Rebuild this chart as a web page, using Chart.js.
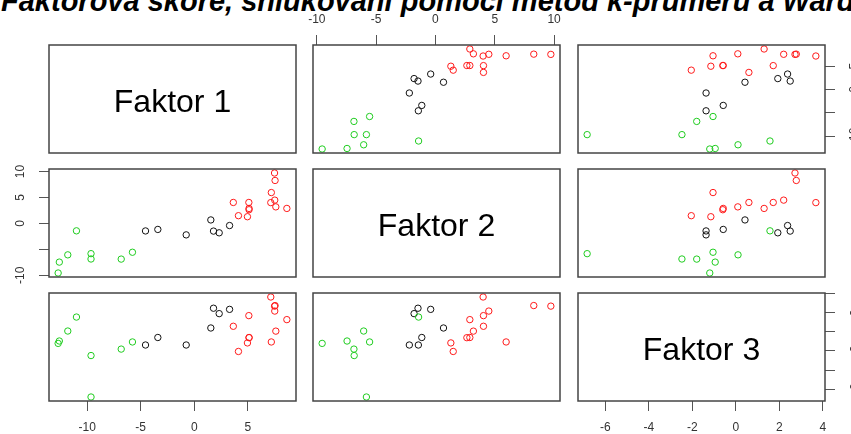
<!DOCTYPE html>
<html>
<head>
<meta charset="utf-8">
<script src="https://cdn.jsdelivr.net/npm/chart.js@4.4.1/dist/chart.umd.min.js"></script>
<style>
  body { margin: 0; width: 851px; height: 434px; overflow: hidden; background: #fff; position: relative; }
  #title { position: absolute; left: 1px; top: -15px; white-space: nowrap; line-height: 1;
           font: italic bold 29px "Liberation Sans", Arial, sans-serif; color: #000; }
  canvas { position: absolute; }
</style>
</head>
<body>
<div id="title">Faktorová skóre, shlukování pomocí metod k-průměrů a Ward</div>
<script>
// skóre tří faktorů pro 28 pozorování (zelené, černé, červené shluky)
const faktor1 = [-12.71, -12.6, -11.81, -11.0, -9.64, -9.64, -6.82, -5.77,
                 -4.55, -3.4, -0.75, 1.55, 1.8, 2.33, 3.3,
                 3.65, 4.13, 4.97, 5.1, 5.12, 5.12, 7.2, 7.15, 7.5, 7.55, 7.52, 7.62, 8.65];
const faktor2 = [-9.55, -7.45, -6.05, -1.42, -6.85, -5.82, -6.87, -5.55,
                 -1.44, -1.15, -2.2, 0.68, -1.47, -1.8, -0.4,
                 4.05, 1.5, 1.3, 4.05, 2.9, 2.65, 5.96, 4.02, 9.73, 8.29, 4.5, 3.2, 2.9];
const faktor3 = [-1.2, -0.95, 0.1, 1.57, -2.48, -6.84, -1.8, -1.05,
                 -1.37, -0.58, -1.37, 0.42, 2.5, 1.93, 2.38,
                 0.6, -2.05, -1.15, 1.72, -0.58, -0.6, -1.05, 3.68, 2.72, 2.78, 2.2, 0.09, 1.3];
// 1 = černý, 2 = červený, 3 = zelený
const shluk = [3, 3, 3, 3, 3, 3, 3, 3,
               1, 1, 1, 1, 1, 1, 1,
               2, 2, 2, 2, 2, 2, 2, 2, 2, 2, 2, 2, 2];

const nazvy = ['Faktor 1', 'Faktor 2', 'Faktor 3'];
const tickValues = [[-10, -5, 0, 5], [-10, -5, 0, 5, 10], [-6, -4, -2, 0, 2, 4]];
// popisky os y, které R vynechá kvůli překryvu
const skipY = [[-5], [-5], [-4, 0, 4]];

const faktory = [faktor1, faktor2, faktor3];
const barvy = { 1: '#111111', 2: '#ff1a1a', 3: '#1fcc1f' };

// rozložení panelů
const cols = [49, 313, 578], rows = [45, 169, 293];
const W = 247, H = 108;
const AX = { top: 45, bottom: 33, left: 49, right: 26 };
const M = 14; // okraj plátna na stranách bez osy, aby se popisky neořízly

function rozsah(v) {
  const lo = Math.min(...v), hi = Math.max(...v), d = (hi - lo) * 0.04;
  return [lo - d, hi + d];
}

function osa(i, pos, shown, skip) {
  const [min, max] = rozsah(faktory[i]);
  const vertical = pos === 'left' || pos === 'right';
  let pad = 8;
  if (pos === 'bottom') pad = 9;
  if (pos === 'left') pad = 10;
  if (pos === 'right') pad = i === 0 ? 11 : 15;
  return {
    type: 'linear', position: pos, display: shown, min: min, max: max,
    afterBuildTicks: s => { s.ticks = tickValues[i].map(v => ({ value: v })); },
    afterFit: s => {
      // pevná velikost osy, bez automatického odsazení
      s.paddingLeft = s.paddingRight = s.paddingTop = s.paddingBottom = 0;
      if (!shown) return;
      if (vertical) s.width = AX[pos]; else s.height = AX[pos];
    },
    grid: { display: shown, drawOnChartArea: false, drawTicks: true, tickLength: 10, color: '#555', lineWidth: 1 },
    border: { display: false },
    ticks: {
      autoSkip: false, color: '#333', padding: pad,
      font: { family: '"Liberation Sans", Arial', size: 12 },
      minRotation: vertical ? 90 : 0, maxRotation: vertical ? 90 : 0,
      crossAlign: vertical ? 'center' : 'near',
      callback: v => (skip.includes(v) ? '' : String(v))
    }
  };
}

const panelBox = {
  id: 'panelBox',
  afterDraw(chart, args, opts) {
    const { ctx, chartArea: a } = chart;
    ctx.save();
    ctx.strokeStyle = '#444';
    ctx.lineWidth = 1.5;
    ctx.strokeRect(a.left, a.top, a.right - a.left, a.bottom - a.top);
    if (opts.label) {
      ctx.fillStyle = '#000';
      ctx.font = '32px "Liberation Sans", Arial';
      ctx.textAlign = 'center';
      ctx.textBaseline = 'middle';
      ctx.fillText(opts.label, (a.left + a.right) / 2, (a.top + a.bottom) / 2 + 4);
    }
    ctx.restore();
  }
};

for (let r = 0; r < 3; r++) {
  for (let c = 0; c < 3; c++) {
    const hasTop = r === 0 && c === 1;
    const hasBottom = r === 2 && c !== 1;
    const hasLeft = c === 0 && r === 1;
    const hasRight = c === 2 && r !== 1;

    const ext = {
      top: hasTop ? AX.top : M, bottom: hasBottom ? AX.bottom : M,
      left: hasLeft ? AX.left : M, right: hasRight ? AX.right : M
    };
    const padding = {
      top: hasTop ? 0 : M, bottom: hasBottom ? 0 : M,
      left: hasLeft ? 0 : M, right: hasRight ? 0 : M
    };

    const cv = document.createElement('canvas');
    cv.width = W + ext.left + ext.right;
    cv.height = H + ext.top + ext.bottom;
    cv.style.left = (cols[c] - ext.left) + 'px';
    cv.style.top = (rows[r] - ext.top) + 'px';
    document.body.appendChild(cv);

    const datasets = [];
    if (r !== c) {
      [3, 1, 2].forEach(k => {
        const pts = [];
        shluk.forEach((s, j) => { if (s === k) pts.push({ x: faktory[c][j], y: faktory[r][j] }); });
        datasets.push({
          data: pts, pointRadius: 3.2, pointBorderWidth: 1,
          borderColor: barvy[k], pointBackgroundColor: 'rgba(0,0,0,0)', showLine: false
        });
      });
    }

    new Chart(cv.getContext('2d'), {
      type: 'scatter',
      data: { datasets: datasets },
      options: {
        responsive: false, animation: false, devicePixelRatio: 1,
        layout: { padding: padding, autoPadding: false },
        scales: {
          x: osa(c, hasTop ? 'top' : 'bottom', hasTop || hasBottom, []),
          y: osa(r, hasRight ? 'right' : 'left', hasLeft || hasRight, skipY[r])
        },
        plugins: {
          legend: { display: false }, tooltip: { enabled: false },
          panelBox: { label: r === c ? nazvy[r] : null }
        }
      },
      plugins: [panelBox]
    });
  }
}
</script>
</body>
</html>
